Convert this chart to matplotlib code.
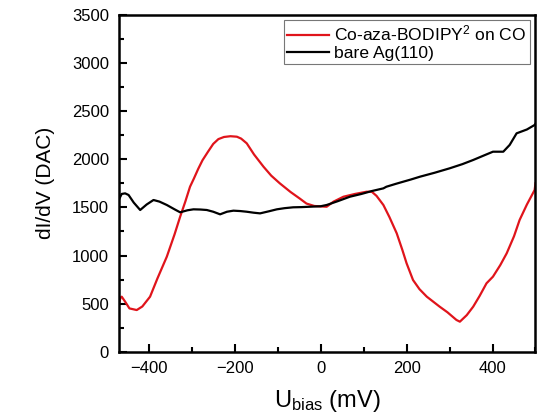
import matplotlib

matplotlib.use("Agg", force=True)
import matplotlib.pyplot as plt
from matplotlib.ticker import MultipleLocator

# Co-aza-BODIPY^2 on CO (red)
red_x = [-470, -466, -463, -455, -445, -428, -415, -397, -380, -358, -340, -327, -315, -304,
         -295, -285, -275, -262, -250, -238, -225, -210, -195, -185, -172, -155, -133, -115, -95,
         -70, -48, -33, -15, 0, 14, 30, 53, 80, 107, 119, 130, 146, 160, 177, 190, 200,
         215, 230, 247, 262, 277, 295, 316, 324, 340, 355, 370, 386, 401, 418, 433, 450,
         463, 480, 498, 500]
red_y = [485, 560, 572, 520, 450, 433, 470, 572, 760, 988, 1220, 1403, 1560, 1715,
         1800, 1900, 1990, 2080, 2160, 2210, 2232, 2240, 2235, 2215, 2166, 2050, 1923, 1830, 1750,
         1660, 1590, 1540, 1515, 1510, 1507, 1560, 1611, 1640, 1663, 1663, 1620, 1525, 1400,
         1231, 1060, 919, 745, 650, 572, 520, 468, 410, 330, 312, 380, 468, 580, 711, 780,
         900, 1023, 1200, 1369, 1530, 1681, 1750]

# bare Ag(110) (black)
blk_x = [-470, -463, -455, -447, -435, -420, -405, -389, -375, -358, -340, -327, -310, -296,
         -280, -265, -250, -234, -218, -203, -187, -172, -156, -141, -120, -102, -84, -64,
         -45, -25, 0, 14, 40, 68, 95, 119, 146, 153, 175, 192, 210, 231, 265, 300, 330, 355,
         380, 401, 425, 440, 456, 480, 498, 500]
blk_y = [1577, 1640, 1646, 1629, 1550, 1473, 1530, 1577, 1560, 1525, 1480, 1449, 1470, 1480,
         1478, 1473, 1455, 1428, 1455, 1466, 1462, 1455, 1445, 1438, 1460, 1480, 1492, 1501,
         1503, 1507, 1512, 1525, 1565, 1611, 1640, 1670, 1698, 1715, 1745, 1767, 1790, 1819,
         1860, 1906, 1950, 1993, 2040, 2079, 2079, 2150, 2270, 2310, 2357, 2370]

x_ticks = [-400, -200, 0, 200, 400]
y_ticks = [0, 500, 1000, 1500, 2000, 2500, 3000, 3500]

plt.rcParams.update({
    "font.family": ["Liberation Sans", "DejaVu Sans"],
    "mathtext.fontset": "custom",
    "mathtext.rm": "Liberation Sans",
    "mathtext.it": "Liberation Sans:italic",
})

fig = plt.figure(figsize=(5.42, 4.17), dpi=100)
ax = fig.add_axes([0.219, 0.1566, 0.769, 0.8074])

ax.plot(red_x, red_y, color="#e0141b", lw=1.6, label="Co-aza-BODIPY$^{\\rm 2}$ on CO")
ax.plot(blk_x, blk_y, color="black", lw=1.6, label="bare Ag(110)")

ax.set_xlim(-470, 500)
ax.set_ylim(0, 3500)
ax.set_xticks(x_ticks)
ax.set_yticks(y_ticks)
ax.xaxis.set_minor_locator(MultipleLocator(100))
ax.yaxis.set_minor_locator(MultipleLocator(250))
ax.tick_params(which="both", direction="in", width=1.5, labelsize=12, pad=7)
ax.tick_params(which="major", length=6)
ax.tick_params(which="minor", length=3.5)
for sp in ax.spines.values():
    sp.set_linewidth(1.8)

ax.set_xlabel(r"U$_{\rm bias}$ (mV)", fontsize=17, labelpad=8)
ax.set_ylabel("dI/dV (DAC)", fontsize=15, labelpad=12)

leg = ax.legend(loc="upper right", fontsize=12.6, frameon=True, fancybox=False,
                edgecolor="#555555", handlelength=2.4, borderaxespad=0.3,
                borderpad=0.2, labelspacing=0.1, handletextpad=0.3)
leg.get_frame().set_linewidth(0.8)

fig.savefig("out.png", dpi=100)
